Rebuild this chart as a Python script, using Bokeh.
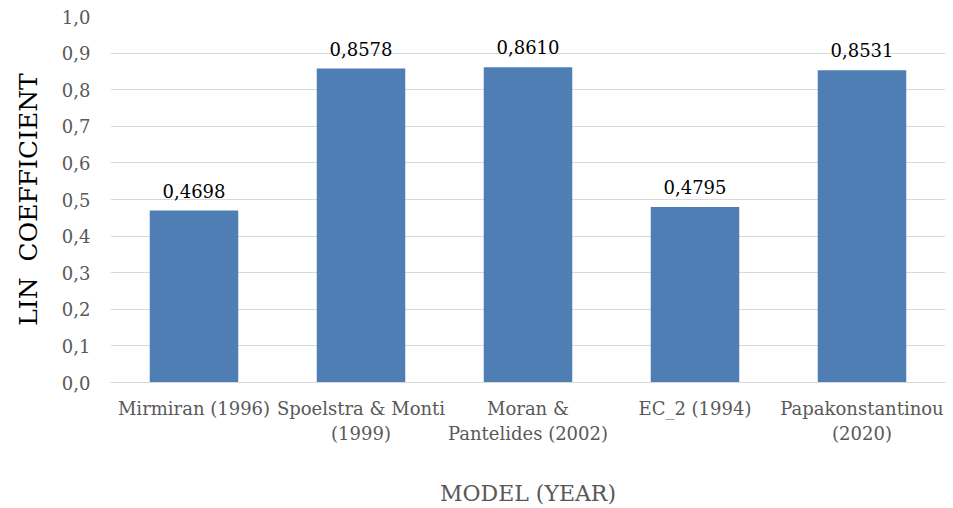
from bokeh.plotting import figure
from bokeh.models import ColumnDataSource, FactorRange, Range1d, SingleIntervalTicker, CustomJSTickFormatter
from bokeh.core.properties import value
from bokeh.embed import file_html
from bokeh.resources import INLINE

models = ["Mirmiran (1996)", "Spoelstra & Monti\n(1999)", "Moran &\nPantelides (2002)",
          "EC_2 (1994)", "Papakonstantinou\n(2020)"]
lin_values = [0.4698, 0.8578, 0.8610, 0.4795, 0.8531]
value_labels = ["0,4698", "0,8578", "0,8610", "0,4795", "0,8531"]

FONT = "DejaVu Serif"

src = ColumnDataSource(dict(model=models, val=lin_values, lab=value_labels))

p = figure(width=953, height=508, x_range=FactorRange(*models, range_padding=0.0),
           y_range=Range1d(0, 1.0), output_backend="svg", toolbar_location=None,
           min_border_left=110, min_border_right=8, min_border_top=16, min_border_bottom=125)
p.outline_line_color = None
p.background_fill_color = "white"

p.vbar(x="model", top="val", width=0.53, source=src, fill_color="#4F7EB5", line_color=None)
p.text(x="model", y="val", text="lab", source=src, text_align="center", text_baseline="bottom",
       y_offset=-13, text_font=value(FONT), text_font_size="18px", text_color="black")

p.xgrid.grid_line_color = None
p.ygrid.grid_line_color = "#d9d9d9"
p.ygrid.grid_line_width = 1

p.yaxis.ticker = SingleIntervalTicker(interval=0.1)
p.yaxis.formatter = CustomJSTickFormatter(code="return tick.toFixed(1).replace('.', ',');")
p.yaxis.axis_line_color = None
p.yaxis.major_tick_line_color = None
p.yaxis.minor_tick_line_color = None
p.yaxis.major_label_standoff = 14
p.yaxis.major_label_text_font = FONT
p.yaxis.major_label_text_font_size = "18px"
p.yaxis.major_label_text_color = "#595959"
p.yaxis.axis_label = "LIN\u00a0\u00a0COEFFICIENT"
p.yaxis.axis_label_text_font = FONT
p.yaxis.axis_label_text_font_size = "25px"
p.yaxis.axis_label_text_font_style = "normal"
p.yaxis.axis_label_text_color = "black"
p.yaxis.axis_label_standoff = 16

p.xaxis.axis_line_color = "#d9d9d9"
p.xaxis.major_tick_line_color = None
p.xaxis.minor_tick_line_color = None
p.xaxis.major_label_standoff = 9
p.xaxis.major_label_text_font = FONT
p.xaxis.major_label_text_font_size = "18px"
p.xaxis.major_label_text_color = "#595959"
p.xaxis.axis_label = "MODEL (YEAR)"
p.xaxis.axis_label_text_font = FONT
p.xaxis.axis_label_text_font_size = "22px"
p.xaxis.axis_label_text_font_style = "normal"
p.xaxis.axis_label_text_color = "#595959"
p.xaxis.axis_label_standoff = 34

open("out.html", "w").write(file_html(p, INLINE))
